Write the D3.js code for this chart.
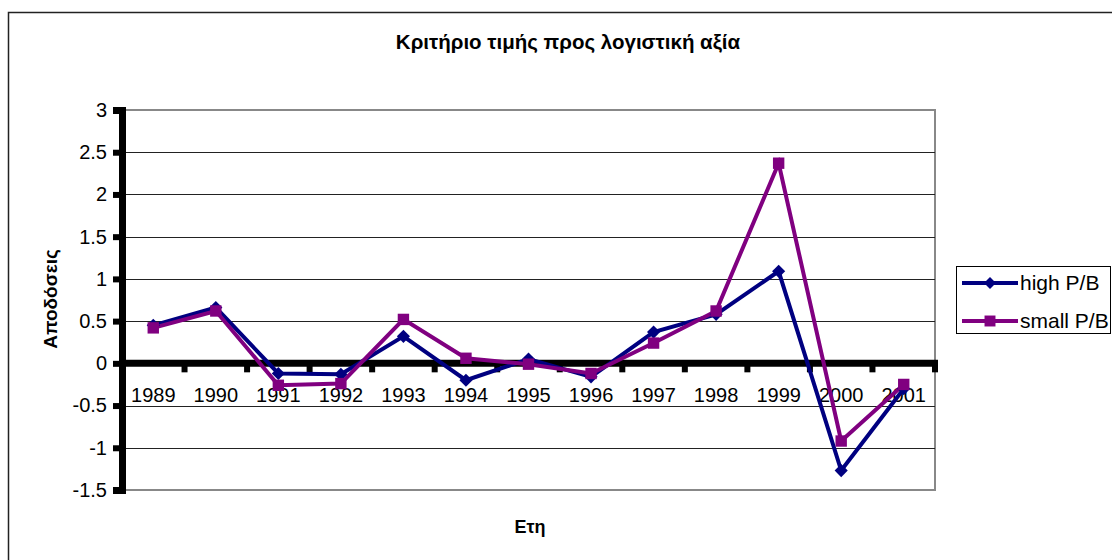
<!DOCTYPE html>
<html>
<head>
<meta charset="utf-8">
<script src="https://cdn.jsdelivr.net/npm/d3@7"></script>
<style>
  body { margin: 0; background: #fff; }
  svg { display: block; font-family: Arial, "Liberation Sans", sans-serif; }
</style>
</head>
<body>
<svg id="svg" width="1112" height="560"></svg>
<script>
var years = ["1989","1990","1991","1992","1993","1994","1995","1996","1997","1998","1999","2000","2001"];
var highPB  = [0.45, 0.66, -0.12, -0.13, 0.32, -0.20, 0.05, -0.16, 0.37, 0.58, 1.09, -1.27, -0.30];
var smallPB = [0.42, 0.62, -0.26, -0.24, 0.52, 0.06, -0.01, -0.12, 0.24, 0.62, 2.37, -0.92, -0.25];
var yTicks = [-1.5, -1, -0.5, 0, 0.5, 1, 1.5, 2, 2.5, 3];
var seriesNames = ["high P/B", "small P/B"];
var colors = ["#000080", "#800080"];

var svg = d3.select("#svg");

// outer chart frame (runs off right/bottom)
svg.append("rect").attr("x", 8.5).attr("y", 12.5).attr("width", 1120).attr("height", 560)
  .attr("fill", "#fff").attr("stroke", "#222").attr("stroke-width", 1.5);

var pLeft = 122, pRight = 935, pTop = 110, pBottom = 490;

var x = d3.scaleBand().domain(years).range([pLeft, pRight]);
var y = d3.scaleLinear().domain([-1.5, 3]).range([pBottom, pTop]);

// plot area
svg.append("rect").attr("x", pLeft).attr("y", pTop).attr("width", pRight - pLeft).attr("height", pBottom - pTop)
  .attr("fill", "#fff").attr("stroke", "#888").attr("stroke-width", 2);

// gridlines
svg.append("g").selectAll("line").data(yTicks.filter(function(d){ return d > -1.5 && d < 3; }))
  .enter().append("line")
  .attr("x1", pLeft).attr("x2", pRight)
  .attr("y1", function(d){ return Math.round(y(d)) + 0.5; })
  .attr("y2", function(d){ return Math.round(y(d)) + 0.5; })
  .attr("stroke", "#222").attr("stroke-width", 1);

// y axis
var yAxis = svg.append("g").attr("transform", "translate(" + pLeft + ",0)")
  .call(d3.axisLeft(y).tickValues(yTicks).tickSize(9).tickPadding(6).tickFormat(function(d){ return String(d); }));
yAxis.select(".domain").attr("stroke", "#000").attr("stroke-width", 7);
yAxis.selectAll(".tick line").attr("stroke", "#000").attr("stroke-width", 6);
yAxis.selectAll("text").attr("font-size", 20).attr("fill", "#000").attr("font-family", "Arial, 'Liberation Sans', sans-serif");

// x axis at zero
var xAxis = svg.append("g").attr("transform", "translate(0," + y(0) + ")")
  .call(d3.axisBottom(x).tickSize(0).tickPadding(24));
xAxis.select(".domain").remove();
xAxis.append("line").attr("x1", pLeft - 3).attr("x2", pRight + 3).attr("y1", 0).attr("y2", 0)
  .attr("stroke", "#000").attr("stroke-width", 7);
xAxis.selectAll(".bt").data(d3.range(years.length + 1)).enter().append("line")
  .attr("class", "bt")
  .attr("x1", function(i){ return Math.min(pLeft + i * x.step(), pRight); })
  .attr("x2", function(i){ return Math.min(pLeft + i * x.step(), pRight); })
  .attr("y1", 0).attr("y2", 9)
  .attr("stroke", "#000").attr("stroke-width", 6);
xAxis.selectAll(".tick text").attr("font-size", 20).attr("fill", "#000").attr("font-family", "Arial, 'Liberation Sans', sans-serif");

// lines
var line = d3.line().x(function(d, i){ return x(years[i]) + x.bandwidth() / 2; }).y(function(d){ return y(d); });
var data = [highPB, smallPB];
data.forEach(function(s, k){
  svg.append("path").datum(s).attr("d", line).attr("fill", "none")
    .attr("stroke", colors[k]).attr("stroke-width", 4).attr("stroke-linejoin", "miter");
});

var diamond = d3.symbol().type(d3.symbolDiamond2).size(110);
var square = d3.symbol().type(d3.symbolSquare).size(130);
svg.append("g").selectAll("path").data(highPB).enter().append("path")
  .attr("d", diamond)
  .attr("transform", function(d, i){ return "translate(" + (x(years[i]) + x.bandwidth() / 2) + "," + y(d) + ")"; })
  .attr("fill", colors[0]);
svg.append("g").selectAll("path").data(smallPB).enter().append("path")
  .attr("d", square)
  .attr("transform", function(d, i){ return "translate(" + (x(years[i]) + x.bandwidth() / 2) + "," + y(d) + ")"; })
  .attr("fill", colors[1]);

// title and axis titles
svg.append("text").attr("x", 568).attr("y", 49).attr("text-anchor", "middle")
  .attr("font-size", 20.5).attr("font-weight", "bold").text("Κριτήριο τιμής προς λογιστική αξία");
svg.append("text").attr("transform", "translate(50,299) rotate(-90)").attr("text-anchor", "middle")
  .attr("dy", "0.35em").attr("font-size", 19).attr("font-weight", "bold").text("Αποδόσεις");
svg.append("text").attr("x", 530).attr("y", 533).attr("text-anchor", "middle")
  .attr("font-size", 18).attr("font-weight", "bold").text("Ετη");

// legend
var lg = svg.append("g");
lg.append("rect").attr("x", 956.5).attr("y", 266.5).attr("width", 154).attr("height", 67)
  .attr("fill", "#fff").attr("stroke", "#000").attr("stroke-width", 1);
var symbols = [d3.symbol().type(d3.symbolDiamond2).size(90), d3.symbol().type(d3.symbolSquare).size(120)];
seriesNames.forEach(function(n, k){
  var ly = 283 + k * 38;
  lg.append("line").attr("x1", 962).attr("x2", 1018).attr("y1", ly).attr("y2", ly)
    .attr("stroke", colors[k]).attr("stroke-width", 4);
  lg.append("path").attr("d", symbols[k]).attr("transform", "translate(990," + ly + ")").attr("fill", colors[k]);
  lg.append("text").attr("x", 1020).attr("y", ly).attr("dy", "0.35em").attr("font-size", 21).text(n);
});
</script>
</body>
</html>
